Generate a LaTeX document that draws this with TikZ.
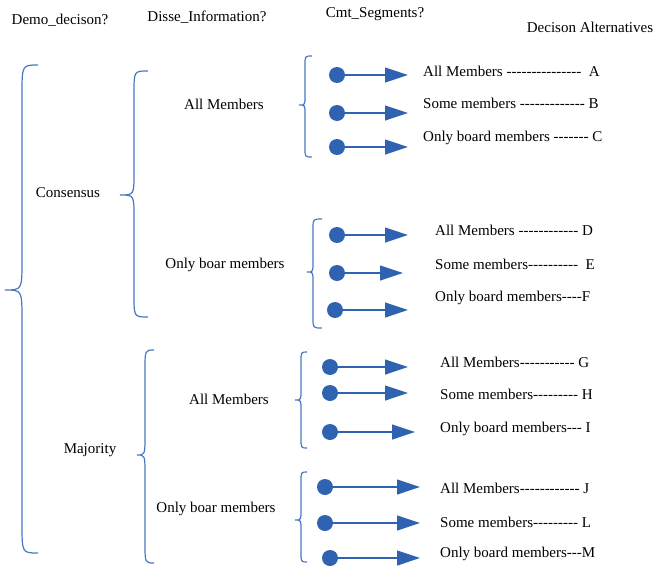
\documentclass[tikz,border=0pt]{standalone}
\usepackage{fontspec}
\setmainfont{Liberation Serif}[Ligatures=TeXOff]
\usetikzlibrary{arrows.meta}
\definecolor{bracec}{HTML}{4A78C0}
\definecolor{dotc}{HTML}{2F62B0}
\tikzset{
  brace/.style={draw=bracec, line width=1.2pt},
  dot/.style={circle, fill=dotc, minimum size=16pt, inner sep=0pt},
  arr/.style={draw=dotc, line width=1.2pt, -{Triangle[length=23pt,width=15pt]}, shorten <=-1pt},
  lbl/.style={font=\fontsize{15}{18}\selectfont, inner sep=0pt},
  alt/.style={lbl, anchor=west},
}
% #1 xe, #2 xl, #3 xt, #4 yt, #5 ym, #6 yb, #7 h
\newcommand\cbrace[7]{%
  \draw[brace] (#1,#4) .. controls (#2,#4) and (#2,#4) .. (#2,{#4+#7})
    -- (#2,{#5-#7}) .. controls (#2,#5) and (#2,#5) .. (#3,#5)
    .. controls (#2,#5) and (#2,#5) .. (#2,{#5+#7})
    -- (#2,{#6-#7}) .. controls (#2,#6) and (#2,#6) .. (#1,#6);}
\begin{document}
\begin{tikzpicture}[x=1pt,y=-1pt]
\useasboundingbox[fill=white] (0,0) rectangle (657,568);
% headers
\node[lbl] (h1) at (60,20) {Demo\_decison?};
\node[lbl] (h2) at (207,17) {Disse\_Information?};
\node[lbl] (h3) at (375,14) {Cmt\_Segments?};
\node[lbl] (h4) at (590,27) {Decison Alternatives};
% level 1
\cbrace{38}{22}{5}{65}{290}{553}{30}
\node[lbl] (cons) at (68,193) {Consensus};
\node[lbl] (maj) at (90,450) {Majority};
% level 2
\cbrace{148}{134}{120}{71}{195}{317}{22}
\cbrace{154}{145}{137}{350}{455}{563}{20}
\node[lbl] (am1) at (224,104) {All Members};
\node[lbl] (ob1) at (225,265) {Only boar members};
\node[lbl] (am2) at (229,399) {All Members};
\node[lbl] (ob2) at (216,509) {Only boar members};
% level 3
\cbrace{312}{305}{299}{56}{105}{157}{9}
\cbrace{322}{313}{307}{219}{272}{328}{10}
\cbrace{307}{301}{295}{352}{400}{448}{10}
\cbrace{307}{301}{295}{472}{520}{562}{10}
% rows
\newcommand\row[7]{% name, cx, cy, tipx, textx, texty, text
  \node[dot] (d#1) at (#2,#3) {};
  \coordinate (t#1) at (#4,#3);
  \draw[arr] (d#1) -- (t#1);
  \node[alt] (l#1) at (#5,#6) {#7};}
\row{A}{337}{75}{408}{423}{71}{All Members ---------------~ A}
\row{B}{337}{113}{408}{423}{103}{Some members ------------- B}
\row{C}{337}{147}{408}{423}{138}{Only board members ------- C}
\row{D}{337}{235}{408}{435}{230}{All Members ------------ D}
\row{E}{337}{273}{403}{435}{264}{Some members----------~ E}
\row{F}{335}{310}{408}{435}{298}{Only board members----F}
\row{G}{330}{367}{408}{440}{362}{All Members----------- G}
\row{H}{330}{393}{408}{440}{394}{Some members--------- H}
\row{I}{330}{432}{415}{440}{429}{Only board members--- I}
\row{J}{325}{487}{420}{440}{488}{All Members------------ J}
\row{L}{325}{523}{420}{440}{522}{Some members--------- L}
\row{M}{330}{558}{420}{440}{554}{Only board members---M}
\end{tikzpicture}
\end{document}
